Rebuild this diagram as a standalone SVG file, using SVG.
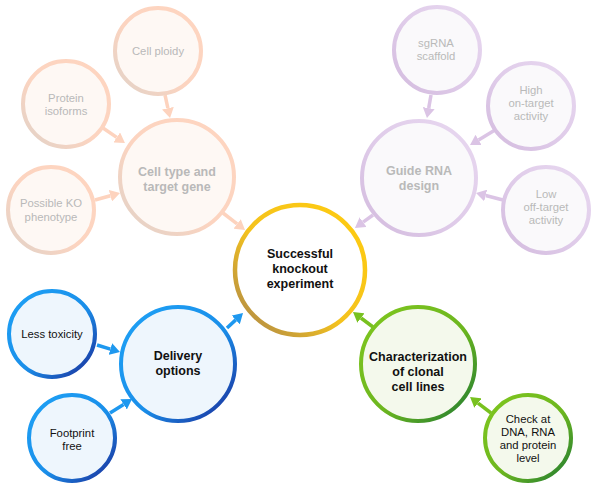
<svg xmlns="http://www.w3.org/2000/svg" width="598" height="490" viewBox="0 0 598 490">
<defs>
<linearGradient id="gPeach" x1="1" y1="0" x2="0" y2="1"><stop offset="0" stop-color="#FED5C0"/><stop offset="0.55" stop-color="#FCD4C0"/><stop offset="1" stop-color="#E0D2C8"/></linearGradient>
<linearGradient id="gPurple" x1="1" y1="0" x2="0" y2="1"><stop offset="0" stop-color="#E8D8F0"/><stop offset="0.55" stop-color="#DFCBE9"/><stop offset="1" stop-color="#D3BBDE"/></linearGradient>
<linearGradient id="gGold" x1="1" y1="0" x2="0" y2="1"><stop offset="0" stop-color="#FFCC0F"/><stop offset="0.55" stop-color="#F4C21E"/><stop offset="1" stop-color="#A7834C"/></linearGradient>
<linearGradient id="gBlue" x1="0" y1="0" x2="1" y2="1"><stop offset="0" stop-color="#1EA2F6"/><stop offset="0.55" stop-color="#1A8EE9"/><stop offset="1" stop-color="#1B2A97"/></linearGradient>
<linearGradient id="gGreen" x1="0" y1="0" x2="1" y2="1"><stop offset="0" stop-color="#80C71F"/><stop offset="0.55" stop-color="#6CB61F"/><stop offset="1" stop-color="#1F7A33"/></linearGradient>
<marker id="mPeach" markerUnits="userSpaceOnUse" markerWidth="10" markerHeight="12" viewBox="0 0 10 12" refX="0" refY="6" orient="auto"><path d="M0,0 L10,6 L0,12 z" fill="#FDD3BE"/></marker>
<marker id="mPurple" markerUnits="userSpaceOnUse" markerWidth="10" markerHeight="12" viewBox="0 0 10 12" refX="0" refY="6" orient="auto"><path d="M0,0 L10,6 L0,12 z" fill="#DBC4E5"/></marker>
<marker id="mBlue" markerUnits="userSpaceOnUse" markerWidth="10" markerHeight="12" viewBox="0 0 10 12" refX="0" refY="6" orient="auto"><path d="M0,0 L10,6 L0,12 z" fill="#1E98EF"/></marker>
<marker id="mGreen" markerUnits="userSpaceOnUse" markerWidth="10" markerHeight="12" viewBox="0 0 10 12" refX="0" refY="6" orient="auto"><path d="M0,0 L10,6 L0,12 z" fill="#78C11F"/></marker>
</defs>
<style>
text{font-family:"Liberation Sans",Arial,sans-serif;text-anchor:middle}
.b{font-weight:bold;font-size:12.5px}
.s{font-size:11.3px}
.fade{fill:#B9B9B9}
.dark{fill:#111111}
.peach{fill:#FEF8F4;stroke:url(#gPeach);stroke-width:4}
.purple{fill:#FAF9FB;stroke:url(#gPurple);stroke-width:4}
.gold{fill:#FFFFFF;stroke:url(#gGold);stroke-width:4.5}
.blue{fill:#EEF6FD;stroke:url(#gBlue);stroke-width:4}
.green{fill:#F4F9EC;stroke:url(#gGreen);stroke-width:4}
.a{stroke-width:3.5;fill:none}
.ap{stroke:#FDD3BE;marker-end:url(#mPeach)}
.au{stroke:#DBC4E5;marker-end:url(#mPurple)}
.ab{stroke:#1E98EF;marker-end:url(#mBlue)}
.ag{stroke:#78C11F;marker-end:url(#mGreen)}
</style>
<g id="connectors">
<line class="a ap" x1="165" y1="95" x2="167.9" y2="108.2"/>
<line class="a ap" x1="103" y1="128" x2="116.7" y2="137.4"/>
<line class="a ap" x1="95" y1="200" x2="110.4" y2="195.7"/>
<line class="a ap" x1="223" y1="213" x2="237.1" y2="223.9"/>
<line class="a au" x1="431" y1="95" x2="428.7" y2="108.1"/>
<line class="a au" x1="495" y1="130" x2="478.6" y2="139.9"/>
<line class="a au" x1="503" y1="200" x2="485.7" y2="195.5"/>
<line class="a au" x1="373" y1="215" x2="363.1" y2="222.1"/>
<line class="a ab" x1="97" y1="345" x2="110.4" y2="349.1"/>
<line class="a ab" x1="110" y1="413" x2="123.6" y2="404.4"/>
<line class="a ab" x1="227" y1="328" x2="235.7" y2="319.9"/>
<line class="a ag" x1="373" y1="327" x2="361" y2="318"/>
<line class="a ag" x1="491" y1="413" x2="478" y2="403.1"/>
</g>
<g id="center"><circle class="gold" cx="300" cy="270" r="65"/><text class="b dark"><tspan x="300" y="258">Successful</tspan><tspan x="300" y="273">knockout</tspan><tspan x="300" y="288">experiment</tspan></text></g>
<g id="cell-type"><circle class="peach" cx="177" cy="177" r="57"/><text class="b fade"><tspan x="177" y="176">Cell type and</tspan><tspan x="177" y="191">target gene</tspan></text></g>
<g id="cell-ploidy"><circle class="peach" cx="158" cy="51" r="43"/><text class="s fade" x="158" y="55">Cell ploidy</text></g>
<g id="protein-isoforms"><circle class="peach" cx="66" cy="104" r="43"/><text class="s fade"><tspan x="66" y="102">Protein</tspan><tspan x="66" y="115">isoforms</tspan></text></g>
<g id="possible-ko"><circle class="peach" cx="51" cy="210" r="43"/><text class="s fade"><tspan x="51" y="207">Possible KO</tspan><tspan x="51" y="221">phenotype</tspan></text></g>
<g id="guide-rna"><circle class="purple" cx="419" cy="178" r="57"/><text class="b fade"><tspan x="419" y="175">Guide RNA</tspan><tspan x="419" y="190">design</tspan></text></g>
<g id="sgrna"><circle class="purple" cx="437" cy="50" r="43"/><text class="s fade"><tspan x="436" y="47">sgRNA</tspan><tspan x="436" y="60">scaffold</tspan></text></g>
<g id="high-on-target"><circle class="purple" cx="531" cy="106" r="43"/><text class="s fade"><tspan x="531" y="94">High</tspan><tspan x="531" y="107">on-target</tspan><tspan x="531" y="120">activity</tspan></text></g>
<g id="low-off-target"><circle class="purple" cx="546" cy="210" r="43"/><text class="s fade"><tspan x="546" y="198">Low</tspan><tspan x="546" y="211">off-target</tspan><tspan x="546" y="224">activity</tspan></text></g>
<g id="delivery"><circle class="blue" cx="178" cy="364" r="57"/><text class="b dark"><tspan x="178" y="360">Delivery</tspan><tspan x="178" y="375">options</tspan></text></g>
<g id="less-toxicity"><circle class="blue" cx="52" cy="334" r="43"/><text class="s dark" x="52" y="338">Less toxicity</text></g>
<g id="footprint"><circle class="blue" cx="72" cy="438" r="43"/><text class="s dark"><tspan x="72" y="437">Footprint</tspan><tspan x="72" y="450">free</tspan></text></g>
<g id="characterization"><circle class="green" cx="418" cy="364" r="57"/><text class="b dark"><tspan x="418" y="361">Characterization</tspan><tspan x="418" y="376">of clonal</tspan><tspan x="418" y="391">cell lines</tspan></text></g>
<g id="check"><circle class="green" cx="528" cy="438" r="43"/><text class="s dark"><tspan x="528" y="423">Check at</tspan><tspan x="528" y="436">DNA, RNA</tspan><tspan x="528" y="449">and protein</tspan><tspan x="528" y="462">level</tspan></text></g>
</svg>
